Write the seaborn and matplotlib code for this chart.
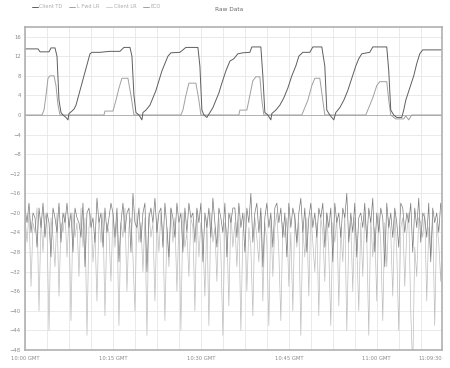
import numpy as np
import pandas as pd
import matplotlib
matplotlib.use("Agg")
import matplotlib.pyplot as plt
import seaborn as sns

sns.set_style("whitegrid")
plt.rcParams['font.family'] = ['DejaVu Sans']

# time axis in 10 s steps, tick labels as shown
tick_pos = [0, 88, 176, 264, 352, 417]
tick_labels = ["10:00 GMT", "10:15 GMT", "10:30 GMT", "10:45 GMT", "11:00 GMT", "11:09:30"]
legend_names = ["Client TD", "L Fwd LR", "Client LR", "ECO"]

# upper trace 1 (sawtooth)
td_t = [0, 13, 15, 24, 26, 30, 32, 34, 36, 38, 41, 43, 44, 47, 49, 51, 53, 55, 57, 59,
        61, 63, 65, 67, 75, 85, 95, 99, 105, 107, 109, 111, 114, 117, 118, 121, 125, 128, 131, 134,
        137, 140, 143, 146, 155, 161, 173, 175, 177, 179, 182, 185, 188, 191, 194, 197, 201, 205, 209, 213,
        218, 225, 227, 236, 238, 240, 243, 246, 247, 251, 255, 259, 263, 267, 271, 274, 278, 285, 288, 297,
        300, 302, 305, 309, 311, 315, 319, 323, 327, 331, 334, 337, 345, 348, 362, 364, 366, 369, 372, 377,
        379, 381, 385, 389, 392, 395, 398, 417]
td_v = [13.5, 13.5, 12.9, 12.9, 13.7, 13.7, 12, 3, 0.5, 0, -0.5, -1, 0.3, 0.8, 1.2, 2, 3.5, 5, 6.5, 8,
        9.5, 11, 12.5, 12.8, 12.8, 13, 13, 13.8, 13.8, 12, 4, 0.5, 0, -1, 0.5, 1, 2, 3.5, 5, 7,
        9, 10.5, 12, 12.7, 12.8, 13.8, 13.8, 10, 1, 0, -0.5, 0.5, 1.5, 3, 4.5, 6.5, 9, 11, 11.5, 12.5,
        12.7, 12.8, 13.9, 13.9, 8, 0.5, 0, -1, 0.3, 1, 2, 3.5, 5.5, 8, 10, 12, 12.8, 12.8, 13.9, 13.9,
        10, 1, 0, -1, 0.5, 1.5, 3, 5, 7.5, 10, 11.5, 12.5, 12.8, 13.9, 13.9, 9, 1, 0, -0.5, -0.5,
        1, 3, 5.5, 8, 10.5, 12.5, 13.3, 13.3]

# upper trace 2 (peaks)
lr_t = [0, 17, 19, 21, 23, 25, 29, 31, 33, 35, 79, 80, 88, 91, 94, 97, 103, 106, 109, 156,
        158, 161, 164, 171, 174, 176, 214, 215, 222, 225, 228, 231, 235, 237, 239, 277, 279, 283, 287, 290,
        295, 298, 300, 341, 343, 348, 352, 355, 362, 364, 366, 371, 379, 381, 384, 387, 417]
lr_v = [0, 0, 1, 4, 7.5, 8, 8, 6, 2, 0, 0, 0.8, 0.8, 3, 5.5, 7.5, 7.5, 4, 0, 0,
        1, 4, 6.5, 6.5, 3, 0, 0, 1, 1, 4, 7, 7.8, 7.8, 3, 0, 0, 1, 3, 6, 7.5,
        7.5, 3, 0, 0, 1, 3.5, 6, 6.8, 6.8, 3, 0, -0.8, -0.8, -0.2, -1, 0, 0]

# lower noisy traces, one sample every 2 steps
noise_light = [-21, -26, -20, -35, -22, -24, -19, -40, -21, -28, -20, -23, -44, -21, -25, -31, -20, -37, -22, -24, -20,
               -29, -21, -42, -20, -25, -22, -33, -19, -27, -21, -45, -23, -20, -30, -24, -38, -21, -26, -20, -41, -22,
               -24, -34, -20, -27, -21, -43, -22, -25, -19, -36, -23, -21, -29, -40, -20, -26, -22, -32, -21, -45, -20,
               -25, -22, -38, -21, -28, -20, -24, -42, -23, -31, -19, -26, -21, -36, -22, -44, -20, -27, -24, -33, -21,
               -23, -40, -20, -29, -22, -25, -37, -21, -43, -20, -26, -23, -34, -21, -28, -45, -22, -24, -39, -20, -27,
               -22, -31, -21, -44, -24, -20, -36, -23, -27, -41, -21, -25, -30, -20, -38, -22, -26, -43, -21, -33, -23,
               -20, -28, -42, -22, -25, -21, -35, -24, -40, -20, -27, -22, -45, -23, -29, -21, -37, -20, -26, -32, -22,
               -41, -21, -24, -34, -20, -28, -43, -22, -26, -21, -39, -23, -30, -20, -44, -25, -22, -36, -21, -27, -40,
               -22, -33, -20, -25, -45, -21, -29, -23, -38, -20, -26, -42, -22, -31, -21, -24, -37, -20, -28, -44, -23,
               -21, -35, -24, -20, -40, -52, -27, -33, -21, -22, -25, -20, -38, -23, -29, -21, -43, -22, -26, -34, -20]
noise_dark = [-19, -22, -18, -24, -20, -21, -27, -19, -23, -18, -25, -20, -22, -29, -19, -21, -24, -18, -26, -20, -22,
              -18, -23, -20, -28, -19, -21, -22, -25, -18, -31, -20, -19, -23, -21, -26, -17, -22, -20, -27, -19, -24,
              -21, -18, -20, -25, -19, -30, -22, -18, -24, -20, -19, -28, -16, -22, -23, -19, -26, -20, -18, -32, -21,
              -19, -22, -17, -24, -20, -19, -27, -18, -23, -29, -19, -21, -25, -18, -22, -20, -28, -19, -24, -18, -21,
              -20, -26, -19, -22, -18, -30, -20, -23, -19, -25, -17, -22, -27, -19, -21, -24, -18, -29, -20, -22, -19,
              -19, -25, -18, -23, -20, -28, -19, -22, -16, -26, -20, -18, -24, -19, -31, -21, -18, -23, -20, -27, -19,
              -18, -22, -19, -25, -20, -29, -18, -23, -19, -21, -26, -20, -17, -24, -19, -28, -21, -18, -23, -20, -25,
              -19, -21, -18, -27, -20, -23, -19, -30, -18, -22, -20, -25, -19, -21, -16, -26, -20, -24, -18, -29, -21,
              -20, -23, -18, -26, -19, -22, -17, -28, -20, -24, -19, -21, -31, -18, -23, -20, -25, -19, -22, -27, -18,
              -19, -24, -20, -22, -18, -28, -19, -23, -17, -26, -20, -21, -25, -18, -30, -19, -22, -20, -24, -18, -21]
noise_t = np.arange(len(noise_light)) * 2

fig = plt.figure(figsize=(4.5, 3.68), dpi=100)
ax = fig.add_axes([0.0556, 0.049, 0.926, 0.878])

sns.lineplot(x=noise_t, y=noise_light, ax=ax, color="#bdbdbd", lw=0.5, label=legend_names[2])
sns.lineplot(x=noise_t, y=noise_dark, ax=ax, color="#7a7a7a", lw=0.5, label=legend_names[1])
sns.lineplot(x=lr_t, y=lr_v, ax=ax, color="#a0a0a0", lw=0.7, label=legend_names[3])
sns.lineplot(x=td_t, y=td_v, ax=ax, color="#5e5e5e", lw=0.7, label=legend_names[0])

ax.set_xlim(0, 417)
ax.set_ylim(-48, 18)
ax.set_yticks(np.arange(-48, 17, 4))
ax.set_xticks(tick_pos)
ax.set_xticks(np.arange(0, 417, 22), minor=True)
ax.set_xticklabels(tick_labels)
ax.get_xticklabels()[-1].set_ha("right")
ax.tick_params(axis="both", labelsize=3.8, colors="#8a8a8a", length=0, pad=3)
ax.tick_params(axis="x", which="major", length=3, width=0.8, color="#aaaaaa", direction="inout")
ax.grid(which="both", axis="x", color="#e6e6e6", lw=0.6)
ax.grid(which="major", axis="y", color="#e6e6e6", lw=0.6)
ax.axhline(0, color="#aaaaaa", lw=0.6, zorder=1)
for s in ax.spines.values():
    s.set_color("#b0b0b0")
    s.set_linewidth(1.2)
ax.set_xlabel("")
ax.set_ylabel("")

h, l = ax.get_legend_handles_labels()
hd = dict(zip(l, h))
ax.get_legend().remove()
fig.legend([hd[n] for n in legend_names], legend_names, loc="upper left",
           bbox_to_anchor=(0.06, 1.0), ncol=4, frameon=False, fontsize=3.6,
           handlelength=1.2, handletextpad=0.3, columnspacing=1.4, labelcolor="#aaaaaa")
fig.text(0.478, 0.975, "Raw Data", fontsize=4.2, color="#666666", va="center")

fig.savefig("out.png", dpi=100)
